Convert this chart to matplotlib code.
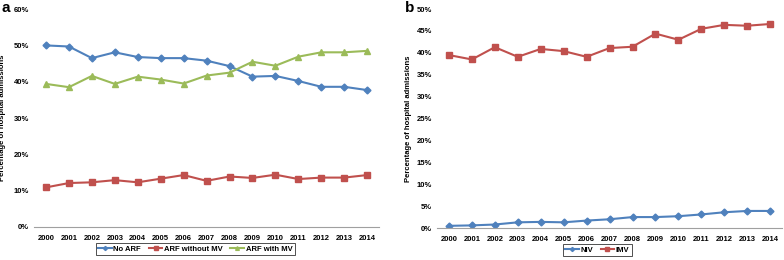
import matplotlib
matplotlib.use('Agg')
import matplotlib.pyplot as plt
from matplotlib.ticker import FuncFormatter

plt.rcParams['font.family'] = ['Liberation Sans Narrow', 'Liberation Sans', 'DejaVu Sans']

years = [str(y) for y in range(2000, 2015)]

# panel a
no_arf = [50.0, 49.7, 46.5, 48.1, 46.8, 46.5, 46.5, 45.8, 44.3, 41.4, 41.6, 40.2, 38.6, 38.6, 37.7]
arf_without_mv = [10.9, 12.1, 12.3, 12.9, 12.3, 13.3, 14.3, 12.7, 13.9, 13.5, 14.4, 13.2, 13.6, 13.6, 14.3]
arf_with_mv = [39.4, 38.5, 41.6, 39.4, 41.4, 40.6, 39.5, 41.7, 42.5, 45.5, 44.4, 46.9, 48.1, 48.1, 48.5]

# panel b
niv = [0.5, 0.6, 0.8, 1.3, 1.4, 1.3, 1.7, 2.0, 2.5, 2.5, 2.7, 3.1, 3.6, 3.9, 3.9]
imv = [39.5, 38.5, 41.3, 39.1, 40.9, 40.4, 39.1, 41.1, 41.4, 44.4, 43.0, 45.5, 46.4, 46.2, 46.6]

blue = '#4F81BD'
red = '#C0504D'
green = '#9BBB59'

fig = plt.figure(figsize=(7.84, 2.60), dpi=100)
ax1 = fig.add_axes([0.044, 0.127, 0.439, 0.838])
ax2 = fig.add_axes([0.558, 0.123, 0.439, 0.842])

pct = FuncFormatter(lambda v, p: '%d%%' % round(v))
x = list(range(len(years)))


def style(ax, ymax, step, labx):
    ax.set_xlim(-0.5, len(years) - 0.5)
    ax.set_ylim(0, ymax)
    ax.set_yticks([i * step for i in range(int(ymax / step) + 1)])
    ax.yaxis.set_major_formatter(pct)
    ax.set_xticks(x)
    ax.set_xticklabels(years)
    for s in ['top', 'right', 'left']:
        ax.spines[s].set_visible(False)
    ax.spines['bottom'].set_color('#a0a0a0')
    ax.spines['bottom'].set_linewidth(0.8)
    ax.tick_params(axis='y', length=0, labelsize=5.5, pad=4)
    ax.tick_params(axis='x', length=0, labelsize=5.5, pad=6)
    for lab in ax.get_xticklabels() + ax.get_yticklabels():
        lab.set_fontweight('bold')
    ax.set_ylabel('Percentage of hospital admissions', fontsize=5.5, fontweight='bold')
    ax.yaxis.set_label_coords(labx, 0.5)


def legend(ax, cx):
    leg = ax.legend(loc='upper center', bbox_to_anchor=(cx, -0.075), ncol=3, fontsize=5.5,
                    frameon=True, fancybox=False, edgecolor='black', handlelength=1.8,
                    borderpad=0.3, columnspacing=1.0, handletextpad=0.2, markerscale=0.6,
                    borderaxespad=0)
    leg.get_frame().set_linewidth(0.6)
    for t in leg.get_texts():
        t.set_fontweight('bold')


style(ax1, 60, 10, -0.082)
ax1.plot(x, no_arf, color=blue, marker='D', markersize=3.5, linewidth=1.5, label='No ARF')
ax1.plot(x, arf_without_mv, color=red, marker='s', markersize=4, linewidth=1.5, label='ARF without MV')
ax1.plot(x, arf_with_mv, color=green, marker='^', markersize=4.5, linewidth=1.5, label='ARF with MV')
legend(ax1, 0.467)

style(ax2, 50, 5, -0.075)
ax2.plot(x, niv, color=blue, marker='D', markersize=3.5, linewidth=1.5, label='NIV')
ax2.plot(x, imv, color=red, marker='s', markersize=4, linewidth=1.5, label='IMV')
legend(ax2, 0.464)

fig.text(0.002, 0.995, 'a', fontsize=11, fontweight='bold', va='top', family=['Liberation Sans', 'DejaVu Sans'])
fig.text(0.516, 0.995, 'b', fontsize=11, fontweight='bold', va='top', family=['Liberation Sans', 'DejaVu Sans'])

fig.savefig('out.png', dpi=100)
